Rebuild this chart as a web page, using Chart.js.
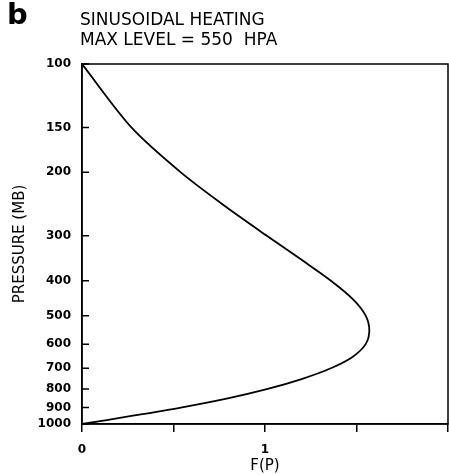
<!DOCTYPE html>
<html>
<head>
<meta charset="utf-8">
<script src="https://cdn.jsdelivr.net/npm/chart.js@4"></script>
<style>
  body { margin: 0; background: #fff; }
  canvas { display: block; }
</style>
</head>
<body>
<canvas id="heatChart" width="449" height="475"></canvas>
<script>
/* --------------- Data ----------------------------------------- */
const pressureLevels = [100, 150, 200, 250, 300, 350, 400, 450, 500, 550, 600, 650, 700, 750, 800, 850, 900, 950, 1000];
const heatingValues = [0, 0.27, 0.54, 0.79, 1.01, 1.20, 1.36, 1.48, 1.55, 1.57, 1.55, 1.48, 1.36, 1.20, 1.01, 0.79, 0.54, 0.27, 0];

const pressureTicks = [100, 150, 200, 300, 400, 500, 600, 700, 800, 900, 1000];
const fTickLabels = ["0", "1"];

const panelLetter = "b";
const titleLines = ["SINUSOIDAL HEATING", "MAX LEVEL = 550  HPA"];
const yTitle = "PRESSURE (MB)";
const xTitle = "F(P)";

Chart.defaults.font.family = '"DejaVu Sans"';
Chart.defaults.color = "#000";

/* --------------- Frame, inward y ticks and heading --------------------- */
const framePlugin = {
  id: "frame",
  afterDraw(chart) {
    const { ctx, chartArea: a, scales } = chart;
    ctx.save();
    ctx.strokeStyle = "#000";
    ctx.lineWidth = 1.5;
    ctx.strokeRect(a.left, a.top, a.right - a.left, a.bottom - a.top);

    ctx.beginPath();
    pressureTicks.forEach((p) => {
      const y = scales.y.getPixelForValue(p);
      ctx.moveTo(a.left, y);
      ctx.lineTo(a.left + 7, y);
    });
    ctx.stroke();

    ctx.fillStyle = "#000";
    ctx.textBaseline = "alphabetic";
    ctx.font = 'bold 29px "DejaVu Sans"';
    ctx.fillText(panelLetter, 7, 24);
    ctx.font = '17px "DejaVu Sans"';
    ctx.fillText(titleLines[0], 80, 25);
    ctx.fillText(titleLines[1], 80, 45);
    ctx.restore();
  },
};

/* --------------- Chart --------------------- */
const heatChart = new Chart(document.getElementById("heatChart"), {
  type: "line",
  plugins: [framePlugin],
  data: {
    datasets: [
      {
        data: pressureLevels.map((p, i) => ({ x: heatingValues[i], y: p })),
        borderColor: "#000",
        borderWidth: 1.8,
        pointRadius: 0,
        pointHoverRadius: 0,
        tension: 0.3,
        fill: false,
      },
    ],
  },
  options: {
    responsive: false,
    animation: false,
    layout: { autoPadding: false, padding: { top: 64, right: 1, left: 0, bottom: 0 } },
    plugins: {
      legend: { display: false },
      tooltip: { enabled: false },
    },
    scales: {
      x: {
        type: "linear",
        min: 0,
        max: 2,
        afterFit: (scale) => {
          scale.height = 51;
          scale.paddingRight = 0;
        },
        ticks: {
          stepSize: 0.5,
          padding: 11,
          maxRotation: 0,
          font: { size: 12, weight: "bold" },
          callback: (v) => (fTickLabels.includes(String(v)) ? String(v) : ""),
        },
        grid: { drawOnChartArea: false, drawTicks: true, tickLength: 8, color: "#000", lineWidth: 1.5 },
        border: { display: true, color: "#000", width: 1.5 },
        title: { display: true, text: xTitle, font: { size: 15 }, padding: { top: 0, bottom: 0 } },
      },
      y: {
        type: "logarithmic",
        reverse: true,
        min: 100,
        max: 1000,
        afterFit: (scale) => { scale.width = 82; },
        afterBuildTicks: (scale) => { scale.ticks = pressureTicks.map((v) => ({ value: v })); },
        ticks: {
          padding: 11,
          font: { size: 12, weight: "bold" },
          callback: (v) => String(v),
        },
        grid: { drawOnChartArea: false, drawTicks: false },
        border: { display: true, color: "#000", width: 1.5 },
        title: { display: true, text: yTitle, font: { size: 15 }, padding: { top: 11, bottom: 0 } },
      },
    },
  },
});
</script>
</body>
</html>
